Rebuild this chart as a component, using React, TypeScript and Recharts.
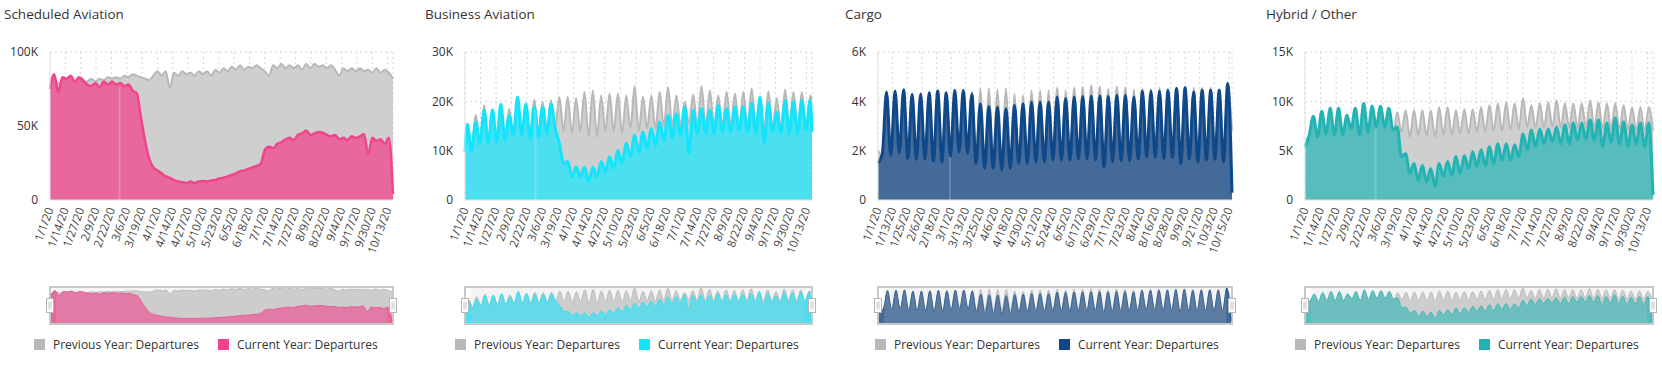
import React from "react";
import {
  AreaChart,
  Area,
  XAxis,
  YAxis,
  CartesianGrid,
  Brush,
  Legend,
  ReferenceLine,
} from "recharts";

// Sample days (days since 1/1/20), two samples per week
const DAYS_A = Array.from({ length: 84 }, (_, k) => k * 3.5);
const DAYS_B = [0, ...Array.from({ length: 83 }, (_, k) => 2 + k * 3.5), 290.5];
const LAST_DAY = 290.5;
const LEAP_DAY = 59; // 2/29/20

// Tick labels (every 13 days, cargo every 12 days)
const TICKS_13 = [
  "1/1/20", "1/14/20", "1/27/20", "2/9/20", "2/22/20", "3/6/20", "3/19/20", "4/1/20",
  "4/14/20", "4/27/20", "5/10/20", "5/23/20", "6/5/20", "6/18/20", "7/1/20", "7/14/20",
  "7/27/20", "8/9/20", "8/22/20", "9/4/20", "9/17/20", "9/30/20", "10/13/20",
];
const TICKS_12 = [
  "1/1/20", "1/13/20", "1/25/20", "2/6/20", "2/18/20", "3/1/20", "3/13/20", "3/25/20",
  "4/6/20", "4/18/20", "4/30/20", "5/12/20", "5/24/20", "6/5/20", "6/17/20", "6/29/20",
  "7/11/20", "7/23/20", "8/4/20", "8/16/20", "8/28/20", "9/9/20", "9/21/20", "10/3/20",
  "10/15/20",
];

// Departures in thousands
const SCHED_CUR = [75, 85, 73, 83, 82, 84, 80, 83, 81, 78, 77, 79, 76, 80, 78, 80, 78, 79, 77, 78, 74, 72, 56, 40, 28, 22, 20, 18, 16, 15, 13.5, 12.5, 12, 11.5, 12.5, 11.5, 12.5, 12.8, 12.5, 13.2, 13.5, 14.5, 15, 16, 17, 18, 19.5, 20, 21, 22, 23, 24.5, 34, 36, 35, 38, 39, 41, 42, 40.5, 44, 45, 47, 44, 45, 46, 45.5, 44, 43, 44, 41, 42, 40.5, 43, 42, 43, 44.5, 31, 42, 40, 41, 38, 42, 4];
const SCHED_PREV = [76, 80, 79, 78, 80, 79, 78, 80, 79, 80, 82, 80, 82, 81, 83, 82, 83, 82, 84, 83, 85, 84, 83, 82, 81, 84, 87, 84, 87, 76, 86, 84, 87, 85, 86, 84, 87, 85, 87, 84, 88, 86, 89, 87, 90, 88, 91, 88, 90, 89, 91, 89, 87, 84, 91, 89, 92, 89, 91, 89, 91, 88, 92, 89, 92, 90, 91, 89, 91, 88, 84, 89, 87, 89, 87, 89, 87, 88, 86, 89, 86, 88, 86, 82];

const BIZ_CUR = [9.8, 15.3, 10, 15.8, 11.5, 18.2, 11.5, 18.3, 11.8, 19.4, 12.1, 17.2, 13.1, 20.9, 13.1, 19.4, 12.5, 18.9, 12.8, 18.9, 13.5, 19.4, 14.5, 11.5, 7.4, 7.8, 4.7, 6.7, 4.7, 6.7, 3.7, 6.7, 4.7, 7.8, 5.7, 8.8, 6.4, 10.1, 7.4, 11.5, 8.8, 13.1, 9.8, 13.8, 10.5, 14.5, 11.1, 15.8, 12.1, 17.2, 12.8, 17.5, 13.1, 18.9, 9.5, 18.2, 13.5, 18.5, 13.5, 18.2, 13.5, 19.2, 13.8, 18.5, 13.8, 18.9, 14.2, 18.9, 13.8, 19.6, 13.5, 20.9, 11.5, 19.6, 13.8, 17.8, 13.5, 20.2, 13.5, 19.9, 13.5, 20.2, 14.2, 20.2, 13.8];
const BIZ_PREV = [9.8, 15.5, 10.5, 17.3, 11.5, 19.2, 12, 18.3, 12, 18.5, 12.5, 18.5, 13, 20, 13.5, 19.5, 13.5, 20.3, 14, 19.9, 14, 20.2, 14.5, 20.9, 14, 20.9, 13.5, 20.6, 14, 21.9, 13, 22.2, 12.8, 21.2, 14, 21.6, 14, 21.6, 13.5, 21.2, 14.5, 23.1, 14, 20.9, 14.5, 21.2, 14.5, 21.9, 15, 22.9, 15, 21.2, 15, 19.9, 15.5, 21.4, 15, 23.1, 15, 22.2, 15, 21.2, 15, 21.9, 15, 21.6, 14.5, 21.9, 15, 22.6, 15, 20.2, 14.5, 22, 14.5, 20.6, 14.5, 22.4, 15, 21.9, 14.5, 21.9, 14, 21.2, 20.5];

const CARGO_CUR = [1.5, 1.85, 4.38, 1.8, 4.42, 1.9, 4.47, 1.68, 4.29, 1.64, 4.3, 1.64, 4.35, 1.58, 4.42, 1.55, 4.35, 1.78, 4.45, 1.95, 4.45, 1.9, 4.29, 1.48, 3.9, 1.28, 3.8, 1.28, 3.77, 1.21, 3.7, 1.28, 3.84, 1.48, 3.9, 1.48, 3.97, 1.55, 3.97, 1.55, 3.97, 1.62, 4.18, 1.62, 4.11, 1.62, 4.18, 1.65, 4.2, 1.65, 4.22, 1.62, 4.22, 1.35, 4.2, 1.55, 4.25, 1.58, 4.25, 1.58, 4.18, 1.65, 4.42, 1.75, 4.42, 1.72, 4.42, 1.68, 4.45, 1.72, 4.52, 1.48, 4.55, 1.65, 4.38, 1.55, 4.45, 1.62, 4.45, 1.65, 4.45, 1.55, 4.72, 0.3];
const CARGO_PREV = [2.0, 1.8, 4.3, 1.75, 4.3, 1.8, 4.35, 1.7, 4.25, 1.7, 4.25, 1.7, 4.3, 1.65, 4.35, 1.65, 4.3, 1.7, 4.35, 1.75, 4.35, 1.8, 4.4, 1.75, 4.52, 1.75, 4.52, 1.7, 4.48, 1.7, 4.52, 1.7, 4.3, 1.7, 4.25, 1.7, 4.45, 1.7, 4.45, 1.7, 4.45, 1.7, 4.55, 1.7, 4.45, 1.7, 4.55, 1.7, 4.58, 1.7, 4.65, 1.7, 4.6, 1.6, 4.5, 1.7, 4.6, 1.7, 4.55, 1.7, 4.48, 1.7, 4.5, 1.75, 4.5, 1.75, 4.55, 1.75, 4.5, 1.75, 4.55, 1.6, 4.6, 1.75, 4.55, 1.7, 4.55, 1.7, 4.55, 1.7, 4.5, 1.7, 4.6, 2.8];

const HYBRID_CUR = [5.4, 6.6, 8.5, 6.4, 9.0, 6.7, 9.3, 6.6, 9.3, 6.6, 8.6, 7.2, 9.3, 6.6, 9.8, 6.9, 9.5, 7.4, 9.5, 7.4, 9.3, 7.1, 7.4, 4.4, 4.7, 2.7, 3.7, 2.0, 3.5, 1.85, 3.2, 1.35, 3.7, 2.4, 3.9, 2.5, 4.4, 2.7, 4.5, 3.2, 4.9, 3.4, 5.1, 3.5, 5.4, 3.7, 5.7, 4.0, 5.7, 4.0, 5.6, 4.4, 6.7, 5.1, 7.1, 5.4, 7.2, 5.7, 7.2, 5.9, 7.4, 5.7, 7.6, 5.7, 7.8, 6.1, 7.8, 6.2, 8.1, 6.1, 8.1, 5.4, 7.8, 5.9, 8.3, 5.7, 7.9, 5.4, 7.6, 5.7, 7.8, 5.4, 7.8, 0.5];
const HYBRID_PREV = [5.2, 6.2, 7.8, 6.2, 8.6, 6.4, 8.8, 6.4, 8.9, 6.5, 8.4, 6.8, 8.9, 6.5, 9.2, 6.7, 9.0, 6.9, 9.0, 6.8, 8.8, 6.6, 8.9, 6.9, 9.1, 6.4, 9.1, 6.6, 9.1, 6.5, 9.1, 6.4, 9.4, 6.6, 9.4, 6.6, 9.1, 6.7, 9.2, 6.7, 9.2, 6.9, 9.4, 6.9, 9.6, 7.0, 9.8, 7.0, 9.9, 7.1, 9.8, 7.2, 10.3, 7.4, 9.6, 7.3, 9.8, 7.3, 9.9, 7.4, 10.1, 7.3, 9.8, 7.3, 9.8, 7.3, 9.8, 7.4, 10.1, 7.3, 9.9, 7.2, 9.8, 7.2, 9.8, 7.1, 9.6, 7.1, 9.4, 7.0, 9.4, 7.0, 9.4, 7.0];

const PREV_NAME = "Previous Year: Departures";
const CUR_NAME = "Current Year: Departures";
const LEGEND_ORDER = [PREV_NAME, CUR_NAME];
const GREY_LINE = "#b8b8b8";
const GREY_FILL = "#cfcfcf";
const FONT = "'Open Sans', 'Noto Sans', sans-serif";

const PANELS = [
  {
    title: "Scheduled Aviation", left: 0, titleX: 4, plotLeft: 50, plotRight: 393, legendX: 34,
    yMax: 100, yTicks: [0, 50, 100], days: DAYS_A, prev: SCHED_PREV, cur: SCHED_CUR,
    labels: TICKS_13, step: 13, stroke: "#f0458b", fill: "#e8679d", lineWidth: 2.5,
  },
  {
    title: "Business Aviation", left: 415, titleX: 425, plotLeft: 465, plotRight: 812, legendX: 455,
    yMax: 30, yTicks: [0, 10, 20, 30], days: DAYS_B, prev: BIZ_PREV, cur: BIZ_CUR,
    labels: TICKS_13, step: 13, stroke: "#14e4fb", fill: "#4bdff0", lineWidth: 3,
  },
  {
    title: "Cargo", left: 830, titleX: 845, plotLeft: 878, plotRight: 1232, legendX: 875,
    yMax: 6, yTicks: [0, 2, 4, 6], days: DAYS_A, prev: CARGO_PREV, cur: CARGO_CUR,
    labels: TICKS_12, step: 12, stroke: "#0e4888", fill: "#436a99", lineWidth: 3,
  },
  {
    title: "Hybrid / Other", left: 1245, titleX: 1266, plotLeft: 1305, plotRight: 1653, legendX: 1295,
    yMax: 15, yTicks: [0, 5, 10, 15], days: DAYS_A, prev: HYBRID_PREV, cur: HYBRID_CUR,
    labels: TICKS_13, step: 13, stroke: "#22b4b4", fill: "#57bcbc", lineWidth: 3,
  },
];

const fmtK = (v: number) => (v === 0 ? "0" : `${v}K`);

function DateTick(props: any) {
  const { x, y, payload, labels, step } = props;
  const label = labels[Math.round(payload.value / step)];
  return (
    <text
      x={x}
      y={y}
      transform={`rotate(-70 ${x} ${y})`}
      textAnchor="end"
      dy="0.35em"
      fontSize={11.5}
      fill="#444"
    >
      {label}
    </text>
  );
}

const makeTraveller = (bx: number) => (p: any) => {
  const isLeft = Math.abs(p.x - bx) < 1;
  const cx = isLeft ? p.x : p.x + p.width;
  const w = 7;
  const h = 14;
  const y0 = p.y + (p.height - h) / 2;
  return (
    <g>
      <rect x={cx - w / 2} y={y0} width={w} height={h} fill="#fff" stroke="#b5b5b5" />
      <line x1={cx - 1} y1={y0 + 3} x2={cx - 1} y2={y0 + h - 3} stroke="#c4c4c4" />
      <line x1={cx + 1} y1={y0 + 3} x2={cx + 1} y2={y0 + h - 3} stroke="#c4c4c4" />
    </g>
  );
};

const renderLegend = (props: any) => {
  const items = [...(props.payload || [])].sort(
    (a: any, b: any) => LEGEND_ORDER.indexOf(a.value) - LEGEND_ORDER.indexOf(b.value)
  );
  return (
    <div style={{ display: "flex", alignItems: "center", fontSize: 12, lineHeight: "17px", color: "#333", whiteSpace: "nowrap" }}>
      {items.map((e: any, i: number) => (
        <span key={i} style={{ display: "inline-flex", alignItems: "center", marginRight: 19 }}>
          <span style={{ display: "inline-block", width: 11, height: 11, background: e.color, marginRight: 8 }} />
          {e.value}
        </span>
      ))}
    </div>
  );
};

function Panel({ cfg }: { cfg: (typeof PANELS)[number] }) {
  const rows = cfg.days.map((day, i) => ({ day, prev: cfg.prev[i], cur: cfg.cur[i] }));
  const yAxisW = cfg.plotLeft - cfg.left;
  const plotW = cfg.plotRight - cfg.plotLeft;
  const width = cfg.plotRight - cfg.left + 4;
  const tickDays = cfg.labels.map((_, i) => i * cfg.step);
  // seam at the leap day, up to the current-year value there
  const seamRow = rows.reduce((a, b) => (Math.abs(b.day - LEAP_DAY) < Math.abs(a.day - LEAP_DAY) ? b : a));
  const seamTop = seamRow.cur * 0.97;

  return (
    <div style={{ position: "absolute", left: cfg.left, top: 0, width, height: 376 }}>
      <AreaChart
        width={width}
        height={376}
        data={rows}
        margin={{ top: 52, right: 4, bottom: 52, left: 0 }}
      >
        <CartesianGrid stroke="#d6d6d6" strokeDasharray="2 3" />
        <XAxis
          dataKey="day"
          type="number"
          domain={[0, LAST_DAY]}
          ticks={tickDays}
          interval={0}
          height={87}
          tickLine={false}
          axisLine={{ stroke: "#e2e2e2" }}
          tick={(p: any) => <DateTick {...p} labels={cfg.labels} step={cfg.step} />}
        />
        <YAxis
          type="number"
          domain={[0, cfg.yMax]}
          ticks={cfg.yTicks}
          width={yAxisW}
          tickFormatter={fmtK}
          tickLine={false}
          tickSize={6}
          tickMargin={6}
          axisLine={{ stroke: "#e2e2e2" }}
          tick={{ fontSize: 12, fill: "#333" }}
        />
        <Area
          type="monotone"
          dataKey="prev"
          name={PREV_NAME}
          stroke={GREY_LINE}
          strokeWidth={2}
          fill={GREY_FILL}
          fillOpacity={1}
          dot={false}
          activeDot={false}
          isAnimationActive={false}
        />
        <Area
          type="monotone"
          dataKey="cur"
          name={CUR_NAME}
          stroke={cfg.stroke}
          strokeWidth={cfg.lineWidth}
          fill={cfg.fill}
          fillOpacity={1}
          dot={false}
          activeDot={false}
          isAnimationActive={false}
        />
        <ReferenceLine
          segment={[{ x: LEAP_DAY, y: 0 }, { x: LEAP_DAY, y: seamTop }]}
          stroke="#ffffff"
          strokeOpacity={0.2}
          strokeWidth={2}
        />
        <Legend
          verticalAlign="middle"
          align="center"
          layout="horizontal"
          wrapperStyle={{ top: 336, left: cfg.legendX - cfg.left, width: "auto", height: "auto" }}
          content={renderLegend}
        />
        <Brush
          dataKey="day"
          x={yAxisW}
          y={287}
          width={plotW}
          height={37}
          stroke="#c8c8c8"
          fill="#fff"
          travellerWidth={6}
          traveller={makeTraveller(yAxisW)}
          startIndex={0}
          endIndex={rows.length - 1}
        >
          <AreaChart data={rows}>
            <YAxis yAxisId="pano" domain={[0, "dataMax"]} hide />
            <Area yAxisId="pano" type="monotone" dataKey="prev" stroke={GREY_LINE} strokeWidth={1} fill={GREY_FILL} fillOpacity={1} dot={false} isAnimationActive={false} />
            <Area yAxisId="pano" type="monotone" dataKey="cur" stroke={cfg.stroke} strokeWidth={1} fill={cfg.fill} fillOpacity={1} dot={false} isAnimationActive={false} />
          </AreaChart>
        </Brush>
      </AreaChart>
      <div
        style={{
          position: "absolute",
          left: cfg.titleX - cfg.left,
          top: 5,
          fontSize: 13.5,
          color: "#333",
          whiteSpace: "nowrap",
        }}
      >
        {cfg.title}
      </div>
      <style>{".recharts-brush > rect:first-of-type{stroke-width:2px}"}</style>
    </div>
  );
}

export default function App() {
  return (
    <div
      style={{
        position: "absolute",
        left: 0,
        top: 0,
        width: 1662,
        height: 376,
        background: "#fff",
        fontFamily: FONT,
        overflow: "hidden",
      }}
    >
      {PANELS.map((cfg) => (
        <Panel key={cfg.title} cfg={cfg} />
      ))}
    </div>
  );
}
